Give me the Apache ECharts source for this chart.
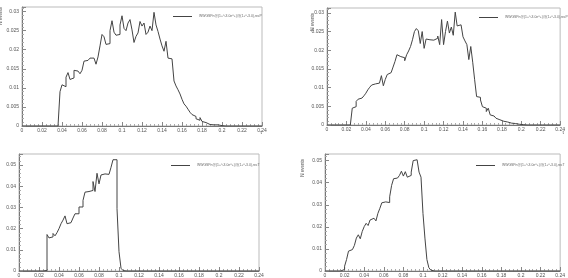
<!DOCTYPE html>
<html><head><meta charset="utf-8">
<script src="https://cdn.jsdelivr.net/npm/echarts@6/dist/echarts.min.js"></script>
<style>html,body{margin:0;padding:0;background:#fff}#c{width:568px;height:278px}</style>
</head><body><div id="c"></div>
<script>
// Bin layout (histogram edges)
const binWidth = 0.002;
const xMax = 0.24;
const xTickStep = 0.02;

// Series names (legend)
const name1 = 'WWGSPn@(1+^-3.0e^+)@(1+^-3.0),recP';
const name2 = 'WWGSPn@(1+^-3.0e^+)@(1+^-3.0),recP ';
const name3 = 'WWGSPn@(1+^-3.0e^+)@(1+^-3.0),recT';
const name4 = 'WWGSPn@(1+^-3.0e^+)@(1+^-3.0),recT ';

// Panel 1 (top-left): first non-empty bin edge + bin contents
const p1Start = 0.038;
const p1Values = [0.0090,0.0108,0.0103,0.0128,0.0140,0.0122,0.0126,0.0146,0.0144,0.0140,
 0.0137,0.0146,0.0170,0.0172,0.0175,0.0178,0.0178,0.0176,0.0162,0.0181,
 0.0210,0.0240,0.0234,0.0214,0.0216,0.0250,0.0276,0.0246,0.0238,0.0240,
 0.0265,0.0289,0.0256,0.0250,0.0270,0.0279,0.0252,0.0219,0.0235,0.0244,
 0.0274,0.0262,0.0270,0.0240,0.0246,0.0262,0.0250,0.0298,0.0265,0.0248,
 0.0228,0.0210,0.0196,0.0222,0.0178,0.0176,0.0176,0.0118,0.0105,0.0095,
 0.0084,0.0070,0.0058,0.0052,0.0044,0.0036,0.0030,0.0025,0.0019,0.0015,
 0.0022,0.0012,0.0009,0.0006,0.0004,0.0002,0.0003,0.0005,0.0003,0.0001,0.0001];

// Panel 2 (top-right)
const p2Start = 0.026;
const p2Values = [0.0045,0.0049,0.0063,0.0069,0.0072,0.0076,0.0078,0.0085,0.0094,0.0101,
 0.0107,0.0110,0.0109,0.0112,0.0110,0.0132,0.0105,0.0122,0.0135,0.0140,
 0.0141,0.0155,0.0170,0.0188,0.0183,0.0182,0.0180,0.0172,0.0188,0.0198,
 0.0210,0.0228,0.0250,0.0258,0.0252,0.0218,0.0250,0.0205,0.0230,0.0228,
 0.0229,0.0227,0.0228,0.0232,0.0238,0.0215,0.0282,0.0215,0.0250,0.0278,
 0.0246,0.0262,0.0240,0.0302,0.0265,0.0268,0.0272,0.0236,0.0225,0.0215,
 0.0175,0.0210,0.0168,0.0121,0.0076,0.0074,0.0067,0.0049,0.0045,0.0036,
 0.0045,0.0027,0.0024,0.0020,0.0018,0.0014,0.0012,0.0010,0.0009,0.0008,
 0.0007,0.0005,0.0005,0.0004,0.0003,0.0002,0.0002,0.0001];

// Panel 3 (bottom-left)
const p3Start = 0.026;
const p3Values = [0.0003,0.0172,0.0156,0.0161,0.0177,0.0166,0.0181,0.0200,0.0223,0.0240,
 0.0260,0.0223,0.0228,0.0234,0.0250,0.0270,0.0270,0.0302,0.0302,0.0333,
 0.0372,0.0375,0.0380,0.0380,0.0422,0.0375,0.0461,0.0411,0.0453,0.0458,
 0.0458,0.0456,0.0453,0.0489,0.0525,0.0525,0.0294,0.0091,0.0013,0.0002];

// Panel 4 (bottom-right)
const p4Start = 0.018;
const p4Values = [0.0007,0.0022,0.0052,0.0090,0.0097,0.0104,0.0116,0.0149,0.0164,0.0146,
 0.0179,0.0201,0.0216,0.0206,0.0231,0.0239,0.0236,0.0227,0.0261,0.0284,
 0.0309,0.0313,0.0316,0.0310,0.0336,0.0388,0.0418,0.0421,0.0425,0.0433,
 0.0452,0.0430,0.0450,0.0425,0.0433,0.0448,0.0500,0.0504,0.0504,0.0448,
 0.0425,0.0261,0.0149,0.0052,0.0015,0.0004];

// Y axis ranges / tick steps
const yMaxTop = [0.0312, 0.0313];
const yMaxBottom = [0.0552, 0.0530];
const yStepTop = 0.005;
const yStepBottom = 0.01;

function histData(start, values) {
  const nBins = Math.round(xMax / binWidth);
  const s = Math.round(start / binWidth);
  const out = [];
  for (let i = 0; i < nBins; i++) {
    const k = i - s;
    const v = (k >= 0 && k < values.length) ? values[k] : 0;
    out.push([+(i * binWidth).toFixed(4), v]);
  }
  out.push([xMax, 0]);
  return out;
}

const grids = [
  {left: 22, top: 7, right: 306, bottom: 152},
  {left: 327, top: 8, right: 3, bottom: 153},
  {left: 19, top: 154, right: 309, bottom: 6},
  {left: 325, top: 154, right: 5, bottom: 6}
].map(g => Object.assign({show: true, borderColor: '#bbb', borderWidth: 1, containLabel: false}, g));

const labelStyle = {fontSize: 5, color: '#555', fontFamily: 'Liberation Sans, Arial, sans-serif'};
function xAx(i) {
  return {type: 'value', gridIndex: i, min: 0, max: xMax, interval: xTickStep,
    axisLine: {show: true, onZero: false, lineStyle: {color: '#777', width: 1}},
    axisTick: {show: true, inside: true, length: 4, lineStyle: {color: '#888'}},
    minorTick: {show: true, splitNumber: 5, length: 2, lineStyle: {color: '#aaa'}},
    splitLine: {show: false},
    axisLabel: Object.assign({margin: 2}, labelStyle)};
}
function yAx(i, max, step) {
  return {type: 'value', gridIndex: i, min: 0, max: max, interval: step,
    axisLine: {show: true, lineStyle: {color: '#777', width: 1}},
    axisTick: {show: true, inside: true, length: 4, lineStyle: {color: '#888'}},
    minorTick: {show: true, splitNumber: 5, length: 2, lineStyle: {color: '#aaa'}},
    splitLine: {show: false},
    axisLabel: Object.assign({margin: 3, showMaxLabel: false}, labelStyle)};
}
function ser(i, name, data) {
  return {type: 'line', name: name, xAxisIndex: i, yAxisIndex: i, data: data,
    step: 'end', symbol: 'none', showSymbol: false, animation: false,
    lineStyle: {color: '#444', width: 1}, itemStyle: {color: '#444'}};
}
function leg(name, left, top) {
  return {data: [name], left: left, top: top, icon: 'rect', itemWidth: 19, itemHeight: 1,
    itemGap: 0, padding: 0, selectedMode: false,
    textStyle: {fontSize: 3.4, color: '#666', fontFamily: 'Liberation Sans, Arial, sans-serif', padding: [0,0,0,2]}};
}
function vtitle(x, y) {
  return {type: 'text', x: x, y: y, rotation: Math.PI / 2,
    style: {text: 'N events', fontSize: 4.5, fill: '#555', align: 'right', verticalAlign: 'middle',
      fontFamily: 'Liberation Sans, Arial, sans-serif'}};
}
function xtitle(x, y) {
  return {type: 'text', x: x, y: y,
    style: {text: 't', fontSize: 5, fill: '#555', align: 'right', verticalAlign: 'middle',
      fontFamily: 'Liberation Sans, Arial, sans-serif'}};
}

const chart = echarts.init(document.getElementById('c'), null, {renderer: 'canvas'});
chart.setOption({
  animation: false,
  backgroundColor: '#fff',
  grid: grids,
  xAxis: [xAx(0), xAx(1), xAx(2), xAx(3)],
  yAxis: [yAx(0, yMaxTop[0], yStepTop), yAx(1, yMaxTop[1], yStepTop),
          yAx(2, yMaxBottom[0], yStepBottom), yAx(3, yMaxBottom[1], yStepBottom)],
  series: [ser(0, name1, histData(p1Start, p1Values)), ser(1, name2, histData(p2Start, p2Values)),
           ser(2, name3, histData(p3Start, p3Values)), ser(3, name4, histData(p4Start, p4Values))],
  legend: [leg(name1, 173, 15), leg(name2, 479, 16), leg(name3, 171, 164), leg(name4, 476, 164)],
  graphic: [vtitle(1, 7), vtitle(313, 13), vtitle(303, 159), xtitle(262, 133), xtitle(564, 133)]
});
</script></body></html>
